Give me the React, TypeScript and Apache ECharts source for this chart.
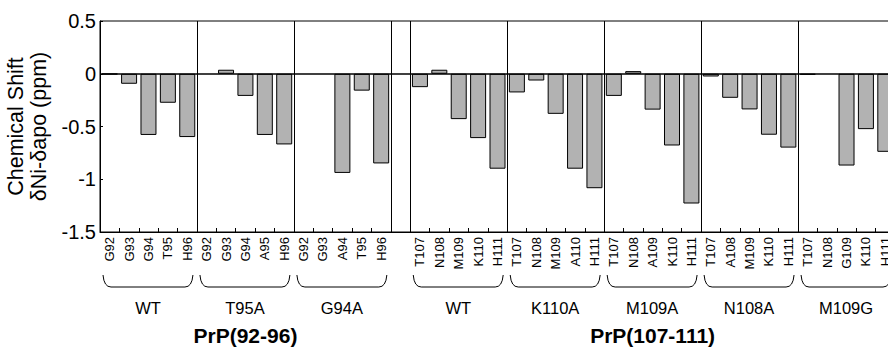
import React, { useEffect, useRef } from 'react';
import * as echarts from 'echarts';

const groupNames = ['WT', 'T95A', 'G94A', 'WT', 'K110A', 'M109A', 'N108A', 'M109G'];
const sectionTitles = ['PrP(92-96)', 'PrP(107-111)'];

const wt92 = ['G92', 'G93', 'G94', 'T95', 'H96'];
const t95a = ['G92', 'G93', 'G94', 'A95', 'H96'];
const g94a = ['G92', 'G93', 'A94', 'T95', 'H96'];
const wt107 = ['T107', 'N108', 'M109', 'K110', 'H111'];
const k110a = ['T107', 'N108', 'M109', 'A110', 'H111'];
const m109a = ['T107', 'N108', 'A109', 'K110', 'H111'];
const n108a = ['T107', 'A108', 'M109', 'K110', 'H111'];
const m109g = ['T107', 'N108', 'G109', 'K110', 'H111'];

const wt92Vals = [-0.005, -0.095, -0.58, -0.275, -0.6];
const t95aVals = [null, 0.038, -0.21, -0.58, -0.67];
const g94aVals = [null, null, -0.94, -0.16, -0.85];
const wt107Vals = [-0.127, 0.038, -0.43, -0.61, -0.9];
const k110aVals = [-0.177, -0.064, -0.38, -0.9, -1.085];
const m109aVals = [-0.21, 0.025, -0.34, -0.68, -1.23];
const n108aVals = [-0.026, -0.228, -0.338, -0.578, -0.7];
const m109gVals = [-0.01, null, -0.87, -0.525, -0.74];

const yTicks = [0.5, 0, -0.5, -1, -1.5];

const groupLabels = [wt92, t95a, g94a, wt107, k110a, m109a, n108a, m109g];
const groupValues = [wt92Vals, t95aVals, g94aVals, wt107Vals, k110aVals, m109aVals, n108aVals, m109gVals];
const gapAfterGroup = 2; // one empty slot between the two sections

const FONT = 'Liberation Sans, Arial, Helvetica, sans-serif';

export default function App() {
  const ref = useRef<HTMLDivElement>(null);
  useEffect(() => {
    document.body.style.margin = '0';
    const chart = echarts.init(ref.current!, null, { renderer: 'svg' });

    const categories: string[] = [];
    const values: (number | null)[] = [];
    const groupRanges: [number, number][] = [];
    groupLabels.forEach((labs, g) => {
      const start = categories.length;
      labs.forEach((l, k) => {
        categories.push(l);
        values.push(groupValues[g][k]);
      });
      groupRanges.push([start, categories.length - 1]);
      if (g === gapAfterGroup) {
        categories.push('');
        values.push(null);
      }
    });
    const boundaries = new Set<number>();
    groupRanges.forEach(([s]) => boundaries.add(s));
    boundaries.add(groupRanges[gapAfterGroup][1] + 1);
    boundaries.delete(0);

    chart.setOption({
      animation: false,
      grid: {
        left: 100,
        top: 21,
        width: 795,
        height: 211,
        show: true,
        borderColor: '#000',
        borderWidth: 1,
        backgroundColor: 'transparent',
        containLabel: false,
        outerBoundsMode: 'none',
      },
      xAxis: {
        type: 'category',
        data: categories,
        position: 'bottom',
        axisLine: { onZero: false, lineStyle: { color: '#000', width: 1 } },
        axisTick: { show: true, inside: true, length: 4, interval: 0, lineStyle: { color: '#000' } },
        axisLabel: {
          interval: 0,
          rotate: 90,
          fontSize: 13,
          color: '#000',
          fontFamily: FONT,
          margin: 5,
        },
        splitLine: {
          show: true,
          interval: (i: number) => boundaries.has(i),
          lineStyle: { color: '#000', width: 1 },
        },
      },
      yAxis: {
        type: 'value',
        min: -1.5,
        max: 0.5,
        interval: 0.5,
        axisLine: { show: true, lineStyle: { color: '#000', width: 1 } },
        axisTick: { show: true, inside: true, length: 3, lineStyle: { color: '#000' } },
        splitLine: { show: false },
        axisLabel: {
          fontSize: 20,
          color: '#000',
          fontFamily: FONT,
          margin: 4,
          formatter: (v: number) => (yTicks.includes(v) ? String(v) : ''),
        },
        name: 'Chemical Shift\nδNi-δapo (ppm)',
        nameLocation: 'middle',
        nameGap: 48,
        nameTextStyle: { fontSize: 21.5, lineHeight: 23, color: '#000', fontFamily: FONT },
      },
      series: [
        {
          type: 'bar',
          data: values,
          barWidth: 16,
          itemStyle: { color: '#b2b2b2', borderColor: '#000', borderWidth: 1 },
          markLine: {
            silent: true,
            symbol: ['none', 'none'],
            label: { show: false },
            lineStyle: { color: '#000', type: 'solid', width: 1.5 },
            data: [{ yAxis: 0 }],
          },
        },
      ],
    });

    const cx = (i: number) => chart.convertToPixel({ xAxisIndex: 0 }, i) as number;
    const band = cx(1) - cx(0);
    const elements: any[] = [];
    const braceTop = 275;
    const braceBottom = 287;
    groupRanges.forEach(([s, e], g) => {
      const x0 = cx(s) - band / 2 + 3;
      const x1 = cx(e) + band / 2 - 4;
      const style = { stroke: '#000', lineWidth: 1, fill: 'none' };
      elements.push({
        type: 'bezierCurve',
        shape: { x1: x0, y1: braceTop, x2: x0 + 8, y2: braceBottom, cpx1: x0 + 1, cpy1: braceBottom },
        style,
        silent: true,
      });
      elements.push({
        type: 'line',
        shape: { x1: x0 + 8, y1: braceBottom, x2: x1 - 8, y2: braceBottom },
        style,
        silent: true,
      });
      elements.push({
        type: 'bezierCurve',
        shape: { x1: x1 - 8, y1: braceBottom, x2: x1, y2: braceTop, cpx1: x1 - 1, cpy1: braceBottom },
        style,
        silent: true,
      });
      elements.push({
        type: 'text',
        x: (x0 + x1) / 2,
        y: 308,
        silent: true,
        style: {
          text: groupNames[g],
          fontSize: 16.5,
          fontFamily: FONT,
          fill: '#000',
          align: 'center',
          verticalAlign: 'middle',
        },
      });
    });
    const secA = [cx(groupRanges[0][0]) - band / 2, cx(groupRanges[gapAfterGroup][1]) + band / 2];
    const secB = [
      cx(groupRanges[gapAfterGroup + 1][0]) - band / 2,
      cx(groupRanges[groupRanges.length - 1][1]) + band / 2,
    ];
    [secA, secB].forEach((sec, k) => {
      elements.push({
        type: 'text',
        x: (sec[0] + sec[1]) / 2,
        y: 335,
        silent: true,
        style: {
          text: sectionTitles[k],
          fontSize: 21,
          fontWeight: 'bold',
          fontFamily: FONT,
          fill: '#000',
          align: 'center',
          verticalAlign: 'middle',
        },
      });
    });
    chart.setOption({ graphic: elements });

    return () => chart.dispose();
  }, []);
  return <div ref={ref} style={{ width: 888, height: 347 }} />;
}
